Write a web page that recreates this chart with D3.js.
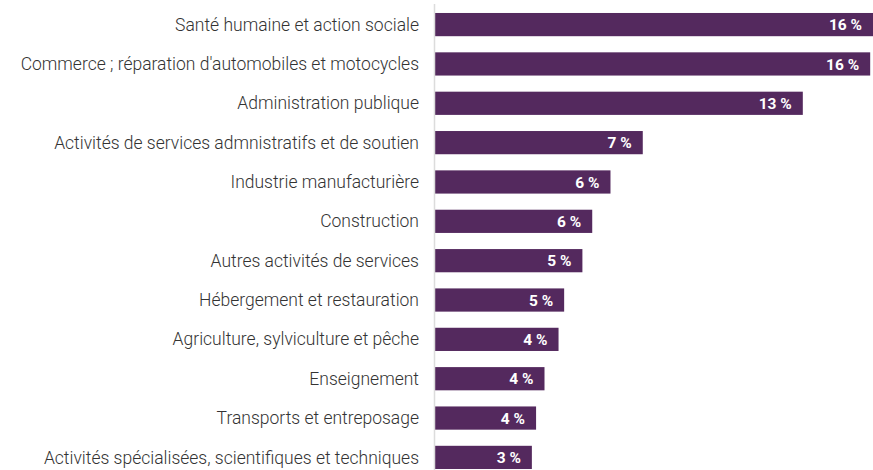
<!DOCTYPE html>
<html>
<head>
<meta charset="utf-8">
<script src="https://cdn.jsdelivr.net/npm/d3@7"></script>
<style>
  html, body { margin: 0; padding: 0; background: #fff; }
  svg { display: block; }
</style>
</head>
<body>
<svg id="chart" width="873" height="470"></svg>
<script>
const categories = [
  "Santé humaine et action sociale",
  "Commerce ; réparation d'automobiles et motocycles",
  "Administration publique",
  "Activités de services admnistratifs et de soutien",
  "Industrie manufacturière",
  "Construction",
  "Autres activités de services",
  "Hébergement et restauration",
  "Agriculture, sylviculture et pêche",
  "Enseignement",
  "Transports et entreposage",
  "Activités spécialisées, scientifiques et techniques"
];
const values = [15.6, 15.5, 13.1, 7.4, 6.25, 5.6, 5.25, 4.6, 4.4, 3.9, 3.6, 3.45];
const valueLabels = ["16 %", "16 %", "13 %", "7 %", "6 %", "6 %", "5 %", "5 %", "4 %", "4 %", "4 %", "3 %"];

const svg = d3.select("#chart");
const W = 873, H = 470;
const x0 = 435;

const x = d3.scaleLinear().domain([0, 15.6]).range([x0, 873]);
const y = d3.scaleBand().domain(categories).range([0, 482]).paddingInner(0.41).paddingOuter(0.33);

// bars
svg.selectAll("rect.bar").data(categories).join("rect")
  .attr("class", "bar")
  .attr("x", x0)
  .attr("y", d => y(d))
  .attr("width", (d, i) => x(values[i]) - x0)
  .attr("height", y.bandwidth())
  .attr("fill", "#54295e");

// axis line
svg.append("line")
  .attr("x1", 434.5).attr("x2", 434.5)
  .attr("y1", 4).attr("y2", H)
  .attr("stroke", "#dcdcdc").attr("stroke-width", 1.5);

// category labels
svg.selectAll("text.cat").data(categories).join("text")
  .attr("class", "cat")
  .attr("x", 419)
  .attr("y", d => y(d) + y.bandwidth() / 2)
  .attr("dy", "0.35em")
  .attr("text-anchor", "end")
  .attr("font-family", "Roboto, sans-serif")
  .attr("font-size", 17.5)
  .attr("font-weight", 300)
  .attr("fill", "#333")
  .text(d => d);

// value labels
svg.selectAll("text.val").data(categories).join("text")
  .attr("class", "val")
  .attr("x", (d, i) => Math.min(x(values[i]), 873) - 11)
  .attr("y", d => y(d) + y.bandwidth() / 2)
  .attr("dy", "0.36em")
  .attr("text-anchor", "end")
  .attr("font-family", "Roboto, sans-serif")
  .attr("font-size", 15.5)
  .attr("font-weight", 700)
  .attr("fill", "#fff")
  .text((d, i) => valueLabels[i]);
</script>
</body>
</html>
